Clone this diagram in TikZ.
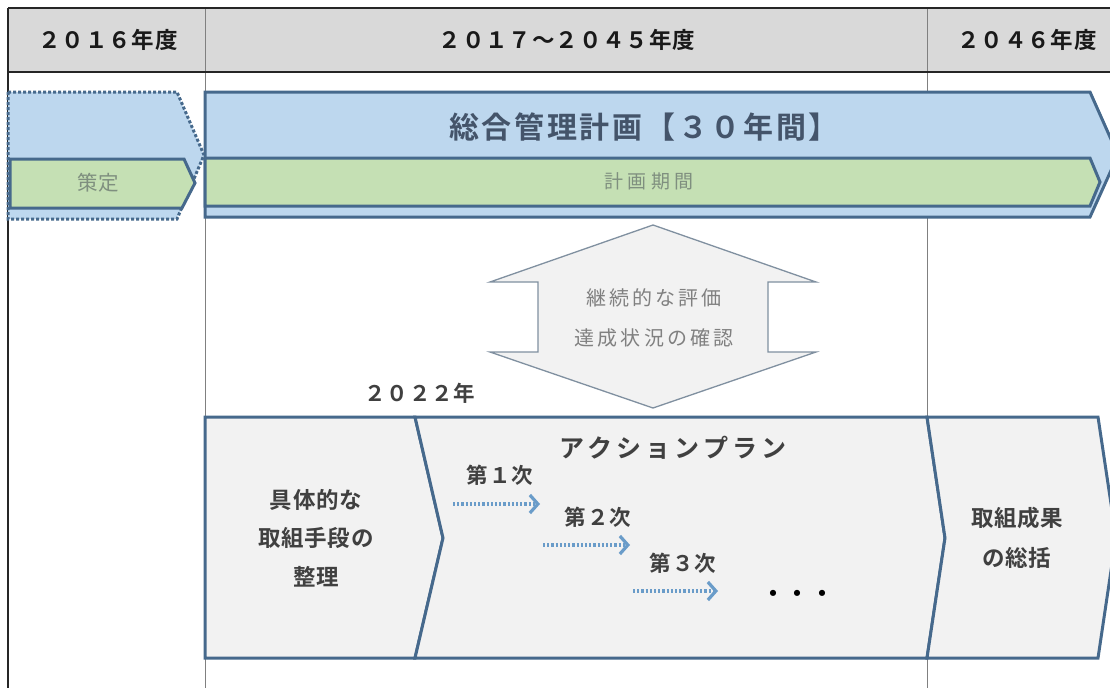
\documentclass[tikz,border=0pt]{standalone}
\usepackage{fontspec}
\setmainfont{Noto Sans CJK JP}[BoldFont={Noto Sans CJK JP Bold}]
\usetikzlibrary{arrows.meta}
\definecolor{hdrfill}{HTML}{D9D9D9}
\definecolor{bluefill}{HTML}{BDD7EE}
\definecolor{greenfill}{HTML}{C5E0B4}
\definecolor{grayfill}{HTML}{F2F2F2}
\definecolor{edge}{HTML}{46698C}
\definecolor{titlecol}{HTML}{44546A}
\definecolor{greentext}{HTML}{7F8F7F}
\definecolor{graytext}{HTML}{808080}
\definecolor{darktext}{HTML}{404040}
\definecolor{arrowblue}{HTML}{6A9CC9}
\definecolor{dbledge}{HTML}{8090A0}
\definecolor{tableline}{HTML}{262626}
\definecolor{gridline}{HTML}{808080}
\tikzset{
  hdrtext/.style={inner sep=0pt, text=black!90, font=\fontsize{22.5}{26}\selectfont\bfseries\addfontfeatures{LetterSpace=4}},
  shapeedge/.style={draw=edge, line width=3pt, line join=miter},
  boxtext/.style={inner sep=0pt, align=center, text=darktext, font=\fontsize{22.5}{38.5}\selectfont\bfseries\addfontfeatures{LetterSpace=3}},
  steptext/.style={inner sep=0pt, text=darktext, font=\fontsize{21.5}{24}\selectfont\bfseries\addfontfeatures{LetterSpace=5}},
  dotarrow/.style={draw=arrowblue, line width=3.4pt, dash pattern=on 2.2pt off 2pt,
     -{Straight Barb[length=8pt,width=18pt,line width=3.2pt]}},
}
\begin{document}
\begin{tikzpicture}[x=1pt,y=-1pt]
\useasboundingbox (0,0) rectangle (1110,688);
\fill[white] (0,0) rectangle (1110,688);
% header
\fill[hdrfill] (8,8) rectangle (1110,72);
\draw[gridline, line width=1pt] (205,8) -- (205,688);
\draw[gridline, line width=1pt] (927,8) -- (927,688);
\draw[tableline, line width=1.8pt] (8,8) -- (1110,8);
\draw[tableline, line width=1.8pt] (8,72) -- (1110,72);
\draw[tableline, line width=1.8pt] (8,8) -- (8,688);
\node[hdrtext] (h1) at (108,40) {２０１６年度};
\node[hdrtext] (h2) at (567,40) {２０１７～２０４５年度};
\node[hdrtext] (h3) at (1027,40) {２０４６年度};
% left dotted shape
\draw[fill=bluefill, draw=edge, line width=3pt, dash pattern=on 3pt off 2pt]
  (8,92) -- (177,92) -- (204,155) -- (177,219) -- (8,219) -- cycle;
\draw[shapeedge, fill=greenfill] (10,159) -- (184,159) -- (195,183) -- (182,208) -- (10,208) -- cycle;
\node[inner sep=0pt, text=greentext, font=\fontsize{20.5}{24}\selectfont] (sakutei) at (98,183) {策定};
% main blue arrow
\draw[shapeedge, fill=bluefill] (205,92) -- (1090,92) -- (1118,155) -- (1090,217) -- (205,217) -- cycle;
\draw[shapeedge, fill=greenfill] (205,158) -- (1090,158) -- (1100,182) -- (1090,206) -- (205,206) -- cycle;
\node[inner sep=0pt, text=titlecol, font=\fontsize{30}{34}\selectfont\bfseries\addfontfeatures{LetterSpace=9}] (title) at (644,127) {総合管理計画【３０年間】};
\node[inner sep=0pt, text=greentext, font=\fontsize{19}{22}\selectfont\addfontfeatures{LetterSpace=22}] (period) at (649,181) {計画期間};
% double arrow
\draw[draw=dbledge, line width=1.3pt, fill=grayfill]
  (653,225) -- (816,282) -- (768,282) -- (768,352) -- (816,352) -- (653,408)
  -- (490,352) -- (538,352) -- (538,282) -- (490,282) -- cycle;
\node[inner sep=0pt, align=center, text=graytext, font=\fontsize{20}{40}\selectfont\addfontfeatures{LetterSpace=16}] (eval) at (654,318) {継続的な評価\\達成状況の確認};
\node[inner sep=0pt, text=darktext, font=\fontsize{21.5}{24}\selectfont\bfseries\addfontfeatures{LetterSpace=4}] (y2022) at (420,393) {２０２２年};
% bottom boxes
\draw[shapeedge, fill=grayfill] (205,417) -- (415,417) -- (443,538) -- (415,658) -- (205,658) -- cycle;
\draw[shapeedge, fill=grayfill] (415,417) -- (927,417) -- (945,538) -- (927,658) -- (415,658) -- (443,538) -- cycle;
\draw[shapeedge, fill=grayfill] (927,417) -- (1098,417) -- (1116,537) -- (1098,658) -- (927,658) -- (945,538) -- cycle;
\node[boxtext] (prep) at (316,538) {具体的な\\取組手段の\\整理};
\node[boxtext, font=\fontsize{22.5}{40}\selectfont\bfseries\addfontfeatures{LetterSpace=3}] (summary) at (1017,538) {取組成果\\の総括};
\node[inner sep=0pt, text=darktext, font=\fontsize{25}{28}\selectfont\bfseries\addfontfeatures{LetterSpace=17}] (ap) at (673,448) {アクションプラン};
\node[steptext] (s1) at (500,475) {第１次};
\node[steptext] (s2) at (598,517) {第２次};
\node[steptext] (s3) at (683,563) {第３次};
\coordinate (a1s) at (453,504); \coordinate (a1e) at (540,504);
\coordinate (a2s) at (543,545); \coordinate (a2e) at (630,545);
\coordinate (a3s) at (633,591); \coordinate (a3e) at (718,591);
\draw[dotarrow] (a1s) -- (a1e);
\draw[dotarrow] (a2s) -- (a2e);
\draw[dotarrow] (a3s) -- (a3e);
\node[inner sep=0pt, text=black, font=\fontsize{24}{26}\selectfont\bfseries\addfontfeatures{LetterSpace=2}] (dots) at (798,596) {・・・};
\end{tikzpicture}
\end{document}
